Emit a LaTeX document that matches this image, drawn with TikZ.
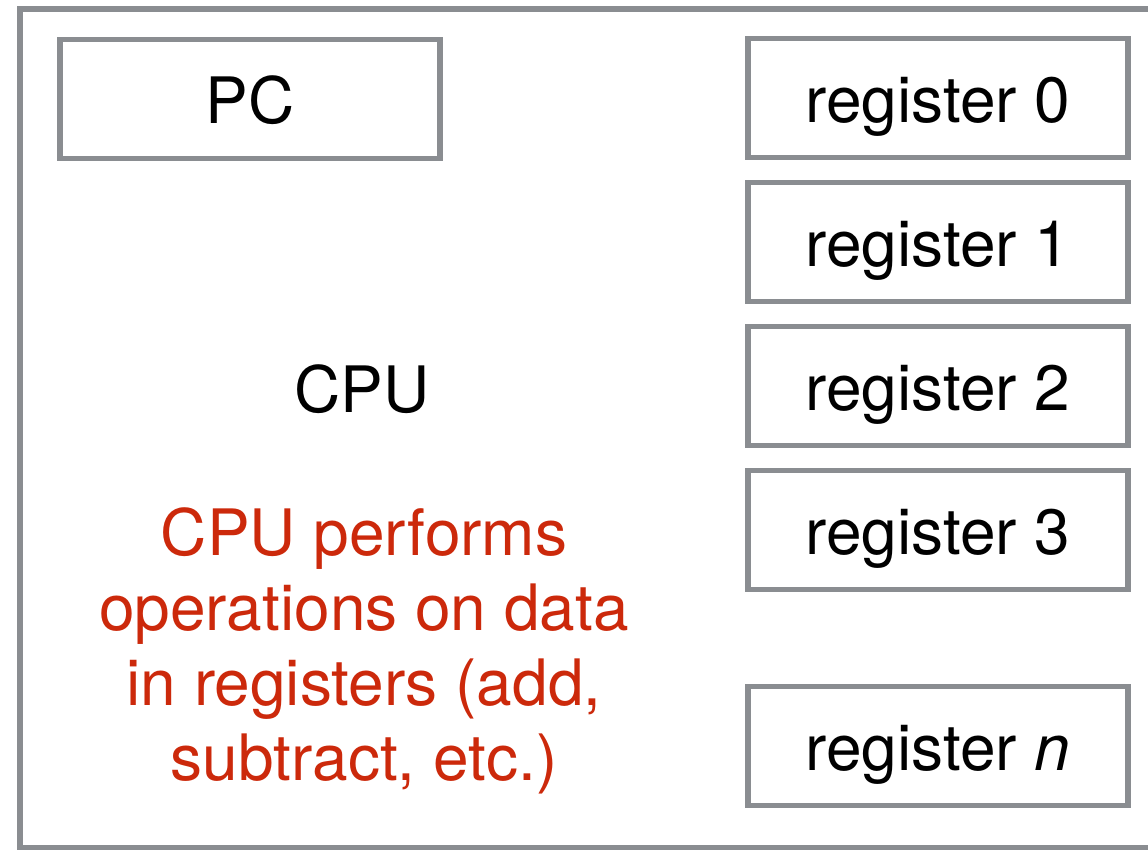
\documentclass[tikz,border=0pt]{standalone}
\usepackage{fontspec}
\setmainfont{TeX Gyre Heros}
\definecolor{boxgrey}{RGB}{138,141,145}
\definecolor{notered}{RGB}{204,41,11}
\begin{document}
\begin{tikzpicture}[x=1pt,y=-1pt,
  boxline/.style={draw=boxgrey, line width=5.5pt},
  regbox/.style={boxline, minimum width=380pt, minimum height=119pt, inner sep=0pt,
    font=\fontsize{64}{75}\selectfont, text height=48pt, text depth=0pt},
  label/.style={font=\fontsize{64}{75}\selectfont, inner sep=0pt}]
  \useasboundingbox (0,0) rectangle (1148,849);
  \clip (0,0) rectangle (1148,849);
  \fill[white] (0,0) rectangle (1148,849);
  % CPU outline, running off the right and bottom edges
  \draw[boxline] (20,9) rectangle (1170,848);
  % program counter
  \node[regbox] (pc) at (250,99) {PC};
  % register file
  \node[regbox] (r0) at (938,98) {register 0};
  \node[regbox] (r1) at (938,242) {register 1};
  \node[regbox] (r2) at (938,386) {register 2};
  \node[regbox] (r3) at (938,530) {register 3};
  \node[regbox] (rn) at (938,746) {register \textit{n}};
  % labels
  \node[label, anchor=base] (cpu) at (362,412) {CPU};
  \node[label, text=notered, align=center, anchor=north] (note) at (364,507)
    {CPU performs\\operations on data\\in registers (add,\\subtract, etc.)};
\end{tikzpicture}
\end{document}
